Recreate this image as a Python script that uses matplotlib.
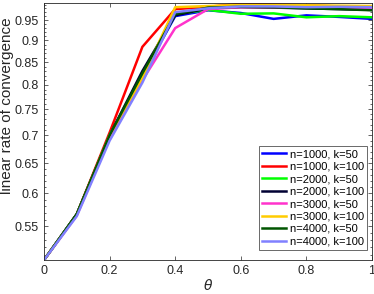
import matplotlib
matplotlib.use('Agg')
import matplotlib.pyplot as plt
import numpy as np
from matplotlib.ticker import FixedLocator, NullFormatter

theta = [0.0, 0.1, 0.2, 0.3, 0.4, 0.5, 0.6, 0.7, 0.8, 0.9, 1.0]

n1000_k50 = [0.503, 0.568, 0.700, 0.820, 0.960, 0.975, 0.968, 0.953, 0.962, 0.958, 0.953]
n1000_k100 = [0.503, 0.568, 0.705, 0.885, 0.978, 0.984, 0.992, 0.990, 0.988, 0.985, 0.982]
n2000_k50 = [0.503, 0.568, 0.700, 0.820, 0.965, 0.976, 0.966, 0.967, 0.957, 0.960, 0.957]
n2000_k100 = [0.503, 0.568, 0.700, 0.830, 0.962, 0.980, 0.983, 0.982, 0.980, 0.978, 0.976]
n3000_k50 = [0.503, 0.566, 0.695, 0.810, 0.930, 0.978, 0.983, 0.983, 0.982, 0.982, 0.980]
n3000_k100 = [0.503, 0.567, 0.700, 0.815, 0.983, 0.986, 0.989, 0.989, 0.988, 0.987, 0.986]
n4000_k50 = [0.503, 0.568, 0.700, 0.825, 0.965, 0.982, 0.984, 0.983, 0.980, 0.978, 0.975]
n4000_k100 = [0.503, 0.565, 0.690, 0.805, 0.970, 0.980, 0.985, 0.985, 0.983, 0.984, 0.983]

series = [
    (n1000_k50, '#0000ff', 'n=1000, k=50'),
    (n1000_k100, '#ff0000', 'n=1000, k=100'),
    (n2000_k50, '#00ff00', 'n=2000, k=50'),
    (n2000_k100, '#000033', 'n=2000, k=100'),
    (n3000_k50, '#ff33cc', 'n=3000, k=50'),
    (n3000_k100, '#ffcc00', 'n=3000, k=100'),
    (n4000_k50, '#005500', 'n=4000, k=50'),
    (n4000_k100, '#8080ff', 'n=4000, k=100'),
]

yticks = [0.55, 0.6, 0.65, 0.7, 0.75, 0.8, 0.85, 0.9, 0.95]
ytick_labels = ['0.55', '0.6', '0.65', '0.7', '0.75', '0.8', '0.85', '0.9', '0.95']
xticks = [0, 0.2, 0.4, 0.6, 0.8, 1]
xtick_labels = ['0', '0.2', '0.4', '0.6', '0.8', '1']

plt.rcParams['font.family'] = ['Liberation Sans', 'DejaVu Sans']

fig = plt.figure(figsize=(3.74, 2.94), dpi=100)
ax = fig.add_axes([0.1176, 0.1156, 0.8771, 0.8742])

for values, color, label in series:
    ax.plot(theta, values, color=color, lw=1.8, label=label)

ax.set_yscale('log')
ax.set_xlim(0, 1)
ax.set_ylim(0.503, 0.994)
ax.yaxis.set_major_locator(FixedLocator(yticks))
ax.set_yticklabels(ytick_labels)
ax.yaxis.set_minor_locator(FixedLocator(np.arange(0.51, 0.995, 0.01)))
ax.yaxis.set_minor_formatter(NullFormatter())
ax.set_xticks(xticks)
ax.set_xticklabels(xtick_labels)

ax.tick_params(axis='both', which='both', direction='in', top=True, right=True,
               colors='#262626', labelsize=9, width=0.5)
ax.tick_params(axis='both', which='major', length=3)
ax.tick_params(axis='both', which='minor', length=1.5)
for sp in ax.spines.values():
    sp.set_color('#262626')
    sp.set_linewidth(0.6)

ax.set_xlabel(r'$\theta$', fontsize=10, color='#262626', labelpad=1)
ax.set_ylabel('linear rate of convergence', fontsize=11, color='#262626')
ax.yaxis.set_label_coords(-0.092, 0.6)

leg = ax.legend(loc='lower right', fontsize=8, frameon=True, fancybox=False,
                handlelength=2.2, handletextpad=0.3, labelspacing=0.22,
                borderpad=0.3, borderaxespad=0.0, bbox_to_anchor=(0.985, 0.04))
leg.get_frame().set_edgecolor('#262626')
leg.get_frame().set_linewidth(0.6)

fig.savefig('out.png', dpi=100)
